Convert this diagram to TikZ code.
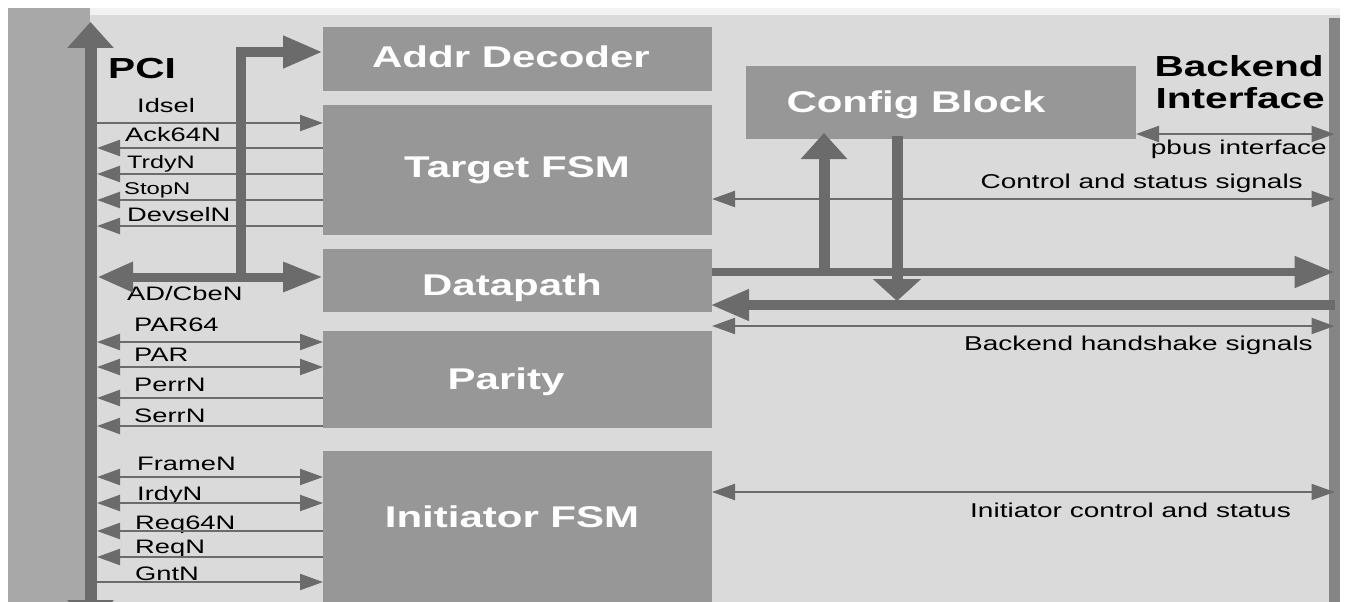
\documentclass[tikz,border=0pt]{standalone}
\usepackage{fontspec}
\setmainfont{Liberation Sans}[FakeStretch=1.4]
\usetikzlibrary{arrows.meta}
\definecolor{bg}{HTML}{DADADA}
\definecolor{blk}{HTML}{979797}
\definecolor{lstrip}{HTML}{A8A8A8}
\definecolor{arr}{HTML}{6B6B6B}
\definecolor{rbar}{HTML}{858585}
\definecolor{topstrip}{HTML}{F2F2F2}
\begin{document}
\begin{tikzpicture}[x=1pt,y=-1pt,
  block/.style={fill=blk, draw=none, inner sep=0pt, outer sep=0pt, anchor=north west},
  btext/.style={text=white, font=\fontsize{30}{36}\selectfont\bfseries, inner sep=0pt, anchor=base},
  ttext/.style={text=black, font=\fontsize{29}{34}\selectfont\bfseries, inner sep=0pt},
  sig/.style={text=black, font=\fontsize{19.5}{23}\selectfont, inner sep=0pt, anchor=base west},
  rsig/.style={text=black, font=\fontsize{20}{24}\selectfont, inner sep=0pt, anchor=base east},
  sigR/.style={draw=arr, line width=2.2pt, -{Triangle[length=23pt,width=16pt]}},
  sigL/.style={draw=arr, line width=2.2pt, {Triangle[length=23pt,width=16pt]}-},
  sigB/.style={draw=arr, line width=2.2pt, {Triangle[length=23pt,width=16pt]}-{Triangle[length=23pt,width=16pt]}},
  busR/.style={draw=arr, line width=9pt, line join=miter, -{Triangle[length=40pt,width=30pt]}},
  busB/.style={draw=arr, line width=9pt, {Triangle[length=36pt,width=28pt]}-{Triangle[length=40pt,width=28pt]}},
  vbus/.style={draw=arr, line width=12pt, -{Triangle[length=26pt,width=45pt]}},
]
\useasboundingbox (0,0) rectangle (1345,602);
\clip (0,0) rectangle (1345,602);
% background
\fill[white] (0,0) rectangle (1345,602);
\fill[topstrip] (90,8) rectangle (1340,15);
\fill[bg] (90,15) rectangle (1340,602);
\fill[lstrip] (8,8) rectangle (90,602);

% right bar
\node[fill=rbar, inner sep=0pt, outer sep=0pt, minimum width=11pt, minimum height=600pt, anchor=north west] (bebar) at (1329,18) {};

% blocks
\node[block, minimum width=389pt, minimum height=64pt]  (addr) at (323,27)  {};
\node[block, minimum width=389pt, minimum height=130pt] (tfsm) at (323,105) {};
\node[block, minimum width=389pt, minimum height=63pt]  (dp)   at (323,249) {};
\node[block, minimum width=389pt, minimum height=97pt]  (par)  at (323,331) {};
\node[block, minimum width=389pt, minimum height=170pt] (init) at (323,451) {};
\node[block, minimum width=390pt, minimum height=73pt]  (cfg)  at (746,66)  {};

\node[btext] (addrt) at (511,68)  {Addr Decoder};
\node[btext] (tfsmt) at (517,177) {Target FSM};
\node[btext] (dpt)   at (512,295) {Datapath};
\node[btext] (part)  at (506,389) {Parity};
\node[btext] (initt) at (512,527) {Initiator FSM};
\node[btext] (cfgt)  at (916,113) {Config Block};

% titles
\node[ttext, anchor=base west] (pci) at (108,79) {PCI};
\node[ttext, anchor=base east] (be1) at (1324,77) {Backend};
\node[ttext, anchor=base east] (be2) at (1325,108) {Interface};

% PCI side coordinates
\coordinate (pcir) at (97,0);
\coordinate (pcitop) at (90.5,22);
\coordinate (pcibot) at (90.5,626);

% left signals
\node[sig] (l1) at (137,113) {Idsel};
\draw[sigR] (pcir |- 0,123) -- (tfsm.west |- 0,123);
\node[sig] (l2) at (125,142) {Ack64N};
\draw[sigL] (pcir |- 0,148) -- (tfsm.west |- 0,148);
\node[sig, font=\fontsize{18}{22}\selectfont] (l3) at (127,168) {TrdyN};
\draw[sigL] (pcir |- 0,174) -- (tfsm.west |- 0,174);
\node[sig, font=\fontsize{17}{21}\selectfont] (l4) at (124,194) {StopN};
\draw[sigL] (pcir |- 0,200) -- (tfsm.west |- 0,200);
\node[sig] (l5) at (127,221) {DevselN};
\draw[sigL] (pcir |- 0,226) -- (tfsm.west |- 0,226);

\node[sig] (l6) at (127,300) {AD/CbeN};
\coordinate (adj) at (241,277);
\draw[busR, line width=10pt] (adj) |- (addr.west |- 0,52);
\draw[busB] (pcir |- 0,277) -- (dp.west |- 0,277);

\node[sig] (l7) at (134,331) {PAR64};
\draw[sigB] (pcir |- 0,342) -- (par.west |- 0,342);
\node[sig] (l8) at (134,361) {PAR};
\draw[sigB] (pcir |- 0,367) -- (par.west |- 0,367);
\node[sig] (l9) at (134,391) {PerrN};
\draw[sigL] (pcir |- 0,398) -- (par.west |- 0,398);
\node[sig] (l10) at (134,422) {SerrN};
\draw[sigL] (pcir |- 0,426) -- (par.west |- 0,426);

\node[sig] (l11) at (137,470) {FrameN};
\draw[sigB] (pcir |- 0,477) -- (init.west |- 0,477);
\node[sig] (l12) at (137,500) {IrdyN};
\draw[sigB] (pcir |- 0,503) -- (init.west |- 0,503);
\node[sig] (l13) at (135,529) {Req64N};
\draw[sigL] (pcir |- 0,531) -- (init.west |- 0,531);
\node[sig] (l14) at (135,553) {ReqN};
\draw[sigL] (pcir |- 0,557) -- (init.west |- 0,557);
\node[sig] (l15) at (135,580) {GntN};
\draw[sigR] (pcir |- 0,582) -- (init.west |- 0,582);

% PCI vertical bus
\draw[vbus, {Triangle[length=26pt,width=45pt]}-{Triangle[length=26pt,width=45pt]}] (pcibot) -- (pcitop);

% right side
\draw[sigB] (cfg.east |- 0,134) -- (bebar.center |- 0,134);
\node[rsig] (r1) at (1327,154) {pbus interface};
\node[rsig] (r2) at (1303,188) {Control and status signals};
\draw[sigB] (tfsm.east |- 0,199) -- (bebar.center |- 0,199);

\coordinate (upfoot) at (824,272);
\coordinate (dntip) at (897,301);
\draw[vbus, line width=11pt, shorten >=-6pt] (upfoot) -- (cfg.south -| upfoot);
\draw[vbus, line width=11pt, -{Triangle[length=22pt,width=47pt]}, shorten <=-3pt] (cfg.south -| dntip) -- (dntip);

\draw[busR, line width=8pt] (dp.east |- 0,272) -- (bebar.center |- 0,272);
\draw[draw=arr, line width=10pt, -{Triangle[length=39pt,width=29pt]}] (bebar.center |- 0,305) -- ([xshift=-2pt]dp.east |- 0,305);
\draw[sigB] (dp.east |- 0,326) -- (bebar.center |- 0,326);
\node[rsig] (r3) at (1313,350) {Backend handshake signals};

\draw[sigB] (init.east |- 0,492) -- (bebar.center |- 0,492);
\node[rsig] (r4) at (1291,517) {Initiator control and status};
\end{tikzpicture}
\end{document}
